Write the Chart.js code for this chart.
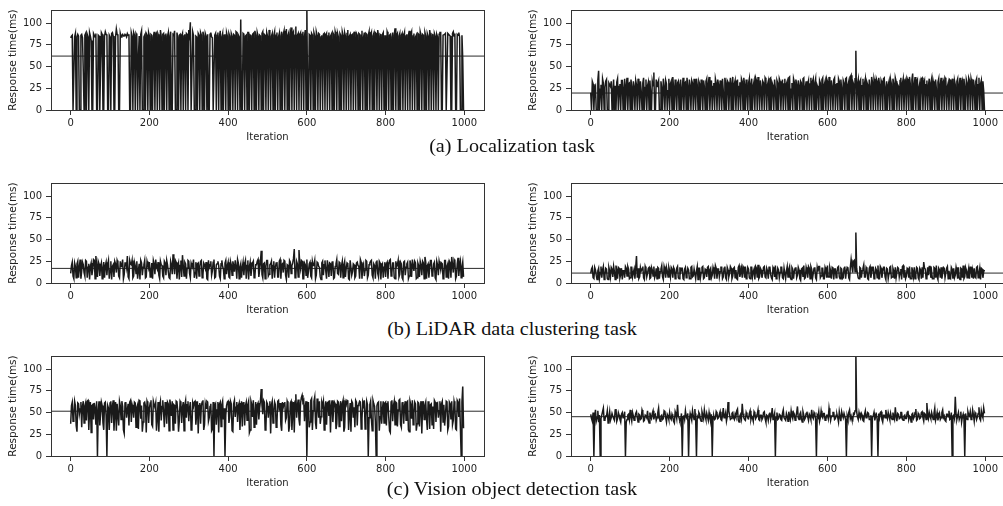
<!DOCTYPE html>
<html>
<head>
<meta charset="utf-8">
<script src="https://cdn.jsdelivr.net/npm/chart.js@4.4.0/dist/chart.umd.min.js"></script>
<style>
  body { margin: 0; background: #fff; width: 1003px; height: 506px; overflow: hidden; position: relative; }
  canvas { position: absolute; }
  .cap { position: absolute; left: 312px; width: 400px; text-align: center; font: 18px "Liberation Serif", serif; line-height: 18px; color: #111; transform: scaleX(1.12); white-space: nowrap; }
</style>
</head>
<body>
<canvas id="c0" width="490" height="143" style="left:0;top:0;width:490px;height:143px"></canvas>
<canvas id="c1" width="485" height="143" style="left:520px;top:0;width:485px;height:143px"></canvas>
<div class="cap" style="top:137px">(a) Localization task</div>
<canvas id="c2" width="490" height="143" style="left:0;top:173px;width:490px;height:143px"></canvas>
<canvas id="c3" width="485" height="143" style="left:520px;top:173px;width:485px;height:143px"></canvas>
<div class="cap" style="top:320px">(b) LiDAR data clustering task</div>
<canvas id="c4" width="490" height="143" style="left:0;top:346px;width:490px;height:143px"></canvas>
<canvas id="c5" width="485" height="143" style="left:520px;top:346px;width:485px;height:143px"></canvas>
<div class="cap" style="top:480px">(c) Vision object detection task</div>
<script>
// tick labels
const xTicks = [0, 200, 400, 600, 800, 1000];
const yTicks = [0, 25, 50, 75, 100];

// samples every 2 iterations: "A" arrays at 0,4,8.. and "B" arrays at 2,6,10..
const itersA = Array.from({length: 250}, (_, i) => i * 4);
const itersB = Array.from({length: 250}, (_, i) => i * 4 + 2);

// response time (ms)
const locLeftA = [
  83, 86, 0, 88, 84, 85, 0, 87, 45, 86,
  0, 84, 89, 80, 0, 86, 88, 0, 85, 52,
  87, 0, 90, 86, 0, 84, 88, 85, 0, 93,
  86, 0, 84, 87, 85, 86, 88, 87, 0, 85,
  89, 0, 86, 60, 0, 91, 0, 86, 88, 0,
  85, 87, 0, 90, 86, 0, 84, 92, 0, 88,
  86, 0, 89, 85, 0, 87, 91, 0, 84, 86,
  0, 88, 85, 0, 87, 92, 101, 0, 86, 0,
  84, 88, 0, 86, 90, 0, 85, 87, 0, 89,
  83, 0, 88, 86, 0, 91, 84, 0, 87, 89,
  0, 85, 88, 0, 86, 90, 0, 84, 104, 0,
  87, 85, 0, 89, 86, 0, 88, 91, 0, 85,
  86, 0, 90, 87, 0, 85, 92, 0, 88, 86,
  0, 89, 84, 0, 90, 87, 0, 93, 86, 0,
  95, 88, 0, 96, 86, 0, 89, 87, 0, 92,
  118, 0, 86, 88, 0, 85, 90, 0, 87, 84,
  0, 88, 86, 0, 89, 85, 0, 87, 90, 0,
  84, 88, 0, 86, 89, 0, 92, 85, 0, 87,
  90, 0, 86, 88, 0, 91, 84, 0, 87, 86,
  0, 89, 85, 0, 88, 92, 0, 86, 87, 0,
  85, 90, 0, 87, 84, 0, 94, 86, 0, 88,
  86, 0, 89, 85, 0, 91, 87, 0, 88, 84,
  0, 87, 90, 0, 86, 89, 0, 85, 92, 0,
  86, 88, 0, 84, 87, 89, 0, 86, 88, 0,
  87, 85, 0, 90, 88, 0, 86, 84, 0, 58
];
const locLeftB = [
  85, 0, 84, 0, 87, 0, 86, 83, 0, 88,
  87, 0, 85, 0, 88, 84, 0, 86, 0, 89,
  0, 85, 87, 0, 86, 0, 89, 0, 84, 87,
  0, 88, 86, 85, 87, 84, 86, 0, 89, 0,
  86, 88, 0, 85, 87, 0, 84, 0, 86, 89,
  0, 86, 84, 0, 88, 87, 0, 85, 87, 0,
  88, 85, 0, 90, 0, 86, 0, 89, 0, 87,
  85, 0, 87, 88, 0, 86, 0, 90, 0, 85,
  0, 86, 89, 0, 85, 88, 0, 0, 87, 84,
  0, 86, 0, 89, 85, 0, 88, 86, 0, 85,
  88, 0, 85, 87, 0, 89, 86, 0, 0, 88,
  0, 86, 89, 0, 85, 87, 0, 86, 89, 0,
  85, 88, 0, 86, 89, 0, 87, 85, 0, 90,
  86, 0, 88, 85, 0, 91, 85, 0, 89, 87,
  0, 90, 86, 0, 88, 87, 0, 90, 85, 0,
  0, 87, 0, 86, 89, 0, 86, 88, 0, 86,
  87, 0, 88, 85, 0, 87, 89, 0, 86, 88,
  0, 86, 90, 0, 85, 88, 0, 87, 86, 0,
  85, 88, 0, 87, 86, 0, 89, 88, 0, 90,
  86, 0, 88, 89, 0, 85, 87, 0, 89, 85,
  0, 87, 86, 0, 89, 86, 0, 88, 85, 0,
  88, 85, 0, 87, 86, 0, 90, 85, 0, 86,
  88, 0, 86, 87, 0, 85, 88, 0, 86, 87,
  0, 85, 87, 0, 89, 0, 86, 87, 0, 88,
  86, 0, 88, 85, 0, 87, 89, 0, 86, 0
];
const locRightA = [
  20, 33, 0, 28, 0, 45, 24, 0, 31, 26,
  35, 0, 29, 33, 22, 0, 0, 36, 27, 0,
  34, 24, 0, 37, 30, 0, 26, 33, 0, 29,
  36, 0, 22, 31, 0, 35, 28, 0, 18, 33,
  43, 0, 27, 34, 0, 25, 36, 0, 30, 22,
  0, 33, 38, 0, 26, 31, 0, 35, 24, 0,
  32, 37, 0, 28, 34, 0, 23, 36, 0, 30,
  35, 0, 27, 33, 0, 38, 25, 0, 31, 36,
  0, 29, 34, 0, 22, 37, 0, 32, 26, 0,
  38, 30, 0, 35, 27, 0, 33, 37, 0, 24,
  31, 0, 36, 28, 0, 34, 38, 0, 26, 33,
  0, 35, 29, 0, 37, 31, 0, 25, 34, 0,
  33, 27, 0, 36, 30, 0, 38, 24, 0, 32,
  35, 0, 28, 33, 0, 37, 26, 0, 34, 30,
  0, 36, 31, 0, 25, 34, 0, 37, 29, 0,
  33, 38, 0, 27, 35, 0, 31, 36, 0, 24,
  34, 0, 37, 29, 0, 40, 33, 0, 68, 30,
  0, 35, 28, 0, 36, 32, 0, 26, 38, 0,
  31, 36, 0, 29, 34, 0, 37, 25, 0, 33,
  35, 0, 30, 37, 0, 27, 34, 0, 36, 31,
  0, 33, 38, 0, 42, 29, 0, 35, 26, 0,
  37, 31, 0, 34, 28, 0, 36, 33, 0, 25,
  32, 0, 37, 30, 0, 35, 27, 0, 34, 36,
  0, 29, 33, 0, 37, 31, 0, 26, 35, 0,
  34, 36, 0, 28, 33, 0, 37, 30, 0, 22
];
const locRightB = [
  0, 30, 26, 0, 34, 0, 29, 36, 0, 33,
  0, 31, 27, 0, 35, 28, 32, 0, 30, 34,
  0, 36, 28, 0, 31, 35, 0, 27, 34, 0,
  30, 33, 0, 37, 26, 0, 32, 34, 0, 28,
  0, 35, 31, 0, 33, 0, 27, 34, 0, 36,
  30, 0, 26, 35, 0, 33, 29, 0, 37, 31,
  0, 27, 35, 0, 31, 36, 0, 29, 33, 0,
  28, 34, 0, 36, 30, 0, 34, 27, 0, 31,
  35, 0, 27, 36, 0, 31, 34, 0, 37, 30,
  0, 34, 28, 0, 32, 36, 0, 29, 35, 0,
  36, 30, 0, 33, 37, 0, 29, 34, 0, 31,
  37, 0, 33, 36, 0, 28, 35, 0, 31, 36,
  0, 35, 30, 0, 33, 37, 0, 31, 36, 0,
  29, 34, 0, 31, 36, 0, 33, 30, 0, 37,
  33, 0, 36, 28, 0, 31, 35, 0, 33, 36,
  0, 30, 34, 0, 37, 29, 0, 33, 35, 0,
  31, 36, 0, 33, 38, 0, 30, 36, 0, 35,
  33, 0, 36, 31, 0, 29, 35, 0, 32, 36,
  0, 33, 37, 0, 31, 36, 0, 33, 29, 0,
  30, 36, 0, 33, 29, 0, 37, 31, 0, 34,
  36, 0, 30, 35, 0, 38, 33, 0, 31, 36,
  0, 34, 29, 0, 36, 31, 0, 28, 35, 0,
  36, 29, 0, 33, 37, 0, 31, 35, 0, 30,
  34, 0, 36, 29, 0, 34, 36, 0, 31, 37,
  0, 31, 35, 0, 36, 29, 0, 34, 33, 0
];
const lidarLeftA = [
  11, 24, 5, 19, 22, 6, 27, 14, 21, 8,
  25, 18, 4, 23, 16, 26, 31, 7, 22, 19,
  5, 24, 20, 9, 26, 15, 4, 21, 25, 12,
  23, 6, 19, 27, 10, 24, 31, 5, 22, 26,
  8, 20, 25, 14, 4, 23, 18, 26, 7, 21,
  24, 11, 5, 22, 27, 16, 9, 25, 20, 6,
  23, 26, 13, 5, 21, 33, 10, 24, 19, 4,
  26, 32, 8, 22, 17, 25, 6, 20, 27, 12,
  5, 23, 19, 26, 9, 21, 24, 4, 18, 25,
  14, 27, 7, 22, 20, 5, 26, 16, 23, 10,
  24, 6, 21, 25, 13, 19, 27, 5, 22, 18,
  9, 26, 20, 4, 24, 17, 25, 8, 21, 27,
  15, 37, 6, 23, 19, 26, 10, 22, 5, 25,
  18, 24, 7, 27, 21, 12, 25, 4, 20, 26,
  11, 23, 39, 8, 22, 38, 16, 25, 5, 21,
  27, 13, 24, 6, 20, 26, 9, 23, 18, 4,
  25, 21, 14, 26, 7, 22, 24, 5, 19, 27,
  10, 23, 20, 6, 25, 17, 22, 4, 26, 13,
  21, 8, 24, 19, 27, 5, 22, 15, 25, 9,
  23, 26, 6, 20, 24, 11, 25, 4, 22, 18,
  7, 24, 21, 27, 12, 23, 5, 19, 26, 10,
  22, 4, 25, 18, 24, 8, 21, 27, 14, 23,
  6, 20, 25, 9, 23, 30, 5, 22, 17, 26,
  11, 24, 4, 21, 25, 15, 22, 7, 26, 19,
  5, 23, 30, 12, 25, 8, 29, 20, 6, 24
];
const lidarLeftB = [
  20, 8, 23, 6, 25, 18, 5, 24, 12, 26,
  6, 22, 19, 9, 27, 5, 20, 25, 8, 23,
  17, 6, 24, 21, 5, 25, 19, 7, 22, 26,
  8, 25, 20, 5, 23, 18, 7, 26, 21, 6,
  24, 11, 5, 22, 26, 9, 21, 6, 25, 17,
  7, 23, 26, 10, 19, 24, 5, 21, 8, 25,
  9, 21, 6, 25, 10, 22, 26, 5, 23, 20,
  7, 20, 24, 5, 26, 11, 23, 19, 6, 24,
  22, 8, 25, 6, 23, 17, 5, 26, 21, 9,
  24, 6, 21, 25, 8, 22, 19, 5, 26, 20,
  7, 25, 9, 20, 26, 5, 23, 18, 6, 24,
  22, 5, 26, 19, 8, 23, 6, 21, 25, 7,
  24, 10, 22, 5, 26, 8, 21, 25, 20, 6,
  23, 7, 25, 5, 22, 26, 9, 21, 6, 24,
  20, 28, 6, 25, 7, 22, 26, 5, 23, 9,
  6, 22, 8, 25, 21, 5, 24, 19, 7, 23,
  9, 26, 5, 20, 23, 8, 25, 6, 22, 11,
  24, 6, 25, 21, 7, 23, 5, 26, 9, 22,
  6, 23, 20, 5, 24, 19, 8, 26, 6, 21,
  25, 9, 22, 5, 26, 7, 23, 20, 6, 24,
  22, 5, 26, 8, 23, 6, 25, 21, 7, 24,
  6, 24, 9, 22, 5, 26, 7, 20, 25, 5,
  23, 7, 21, 25, 5, 24, 20, 6, 26, 8,
  22, 6, 25, 9, 20, 23, 5, 26, 7, 22,
  25, 6, 21, 27, 5, 22, 8, 25, 18, 7
];
const lidarRightA = [
  11, 18, 5, 15, 4, 17, 12, 6, 19, 9,
  16, 4, 14, 18, 7, 13, 20, 5, 17, 10,
  4, 15, 19, 8, 16, 6, 18, 12, 5, 31,
  17, 7, 14, 19, 4, 16, 11, 18, 6, 15,
  19, 9, 5, 17, 13, 20, 4, 15, 18, 7,
  14, 18, 6, 16, 10, 19, 5, 13, 17, 4,
  18, 11, 15, 5, 19, 8, 16, 14, 4, 17,
  12, 19, 6, 15, 18, 4, 17, 9, 14, 20,
  5, 16, 13, 18, 7, 19, 4, 15, 11, 17,
  8, 18, 15, 4, 20, 12, 6, 17, 19, 9,
  16, 5, 18, 13, 4, 17, 21, 7, 15, 11,
  19, 6, 14, 18, 10, 4, 16, 20, 8, 15,
  12, 18, 5, 17, 14, 7, 19, 4, 16, 13,
  18, 9, 15, 3, 17, 20, 6, 14, 19, 5,
  16, 11, 18, 4, 13, 19, 8, 17, 5, 15,
  20, 7, 14, 18, 4, 16, 12, 19, 5, 16,
  6, 19, 13, 17, 4, 27, 12, 26, 58, 11,
  5, 17, 14, 21, 7, 16, 4, 19, 12, 18,
  9, 15, 20, 5, 17, 13, 18, 4, 16, 11,
  19, 7, 14, 18, 6, 17, 12, 4, 20, 15,
  8, 16, 19, 5, 13, 18, 10, 17, 4, 15,
  18, 24, 16, 6, 9, 19, 13, 5, 17, 20,
  4, 15, 18, 11, 17, 6, 19, 14, 5, 16,
  17, 9, 13, 18, 4, 16, 20, 7, 15, 12,
  5, 18, 14, 17, 6, 19, 11, 4, 16, 13
];
const lidarRightB = [
  16, 6, 18, 9, 14, 5, 19, 15, 4, 17,
  5, 18, 7, 16, 19, 4, 15, 18, 6, 17,
  14, 6, 17, 19, 5, 18, 7, 16, 18, 6,
  5, 18, 16, 6, 19, 7, 17, 5, 18, 8,
  6, 17, 18, 5, 16, 7, 19, 6, 14, 18,
  7, 16, 18, 5, 17, 6, 18, 17, 5, 16,
  6, 17, 5, 18, 7, 16, 5, 19, 17, 6,
  18, 5, 16, 7, 19, 15, 6, 18, 5, 17,
  16, 7, 18, 5, 17, 6, 18, 7, 19, 5,
  17, 6, 5, 18, 7, 17, 19, 6, 5, 18,
  6, 18, 7, 16, 19, 6, 5, 17, 6, 18,
  7, 17, 5, 19, 6, 18, 7, 5, 17, 6,
  18, 6, 17, 5, 19, 16, 6, 18, 5, 17,
  6, 18, 5, 16, 7, 5, 18, 6, 17, 19,
  5, 17, 6, 18, 19, 6, 17, 5, 18, 6,
  7, 18, 5, 17, 16, 6, 18, 7, 17, 5,
  17, 5, 18, 6, 18, 19, 25, 13, 17, 6,
  18, 6, 17, 7, 18, 5, 17, 6, 18, 5,
  17, 6, 5, 19, 6, 18, 7, 17, 5, 18,
  6, 17, 5, 6, 18, 7, 16, 19, 6, 5,
  17, 6, 5, 18, 7, 5, 18, 6, 17, 5,
  6, 17, 5, 18, 19, 6, 5, 18, 6, 7,
  17, 6, 5, 18, 6, 17, 5, 6, 18, 5,
  6, 18, 5, 6, 17, 6, 5, 18, 6, 17,
  18, 6, 5, 7, 18, 6, 17, 17, 6, 15
];
const visionLeftA = [
  37, 62, 45, 58, 28, 60, 54, 33, 63, 57,
  41, 64, 52, 27, 59, 61, 36, 0, 63, 48,
  58, 30, 62, 0, 55, 61, 38, 64, 50, 29,
  60, 63, 42, 57, 26, 62, 53, 35, 64, 59,
  44, 61, 56, 31, 63, 58, 39, 62, 27, 60,
  55, 64, 34, 59, 61, 43, 28, 63, 57, 50,
  62, 37, 60, 65, 46, 30, 58, 63, 52, 41,
  61, 56, 29, 64, 59, 40, 62, 33, 57, 63,
  48, 26, 61, 58, 64, 36, 55, 62, 44, 60,
  31, 0, 60, 53, 27, 62, 59, 42, 0, 58,
  63, 45, 60, 28, 64, 56, 39, 61, 52, 34,
  62, 58, 41, 63, 30, 59, 64, 47, 36, 61,
  55, 77, 48, 62, 33, 60, 57, 26, 63, 51,
  59, 38, 64, 61, 29, 56, 62, 44, 60, 35,
  63, 50, 27, 71, 58, 42, 61, 70, 64, 57,
  0, 62, 39, 66, 52, 68, 31, 60, 63, 45,
  58, 30, 63, 61, 46, 27, 64, 55, 60, 37,
  62, 57, 40, 64, 33, 59, 63, 48, 28, 61,
  56, 64, 35, 60, 62, 43, 58, 31, 63, 0,
  59, 42, 64, 57, 0, 61, 29, 63, 54, 38,
  62, 60, 45, 27, 64, 58, 36, 61, 53, 65,
  33, 62, 57, 41, 63, 28, 59, 64, 49, 60,
  37, 61, 56, 26, 63, 58, 43, 62, 31, 60,
  57, 64, 39, 61, 52, 28, 63, 59, 46, 62,
  34, 60, 63, 41, 58, 30, 62, 66, 0, 80
];
const visionLeftB = [
  58, 40, 63, 35, 61, 48, 62, 57, 38, 61,
  63, 30, 62, 58, 42, 55, 63, 52, 35, 62,
  38, 61, 46, 58, 30, 63, 57, 29, 62, 60,
  35, 58, 63, 30, 61, 44, 60, 62, 39, 55,
  62, 33, 59, 64, 43, 28, 61, 57, 63, 38,
  61, 36, 63, 56, 29, 62, 58, 41, 64, 33,
  55, 62, 29, 57, 63, 59, 37, 62, 28, 63,
  38, 62, 59, 44, 63, 55, 30, 61, 62, 36,
  63, 58, 37, 62, 30, 60, 63, 40, 57, 29,
  62, 58, 36, 62, 60, 34, 63, 55, 47, 62,
  38, 63, 29, 60, 45, 62, 58, 30, 63, 61,
  35, 62, 59, 27, 63, 45, 33, 62, 59, 42,
  63, 58, 64, 30, 62, 44, 63, 59, 38, 62,
  33, 63, 52, 36, 62, 60, 41, 63, 28, 61,
  30, 62, 63, 44, 65, 35, 67, 62, 40, 63,
  56, 33, 64, 30, 63, 38, 66, 44, 37, 62,
  63, 55, 36, 62, 64, 58, 39, 62, 31, 63,
  34, 63, 60, 28, 62, 64, 30, 61, 63, 44,
  33, 62, 58, 63, 31, 62, 64, 45, 59, 44,
  63, 29, 60, 40, 58, 62, 45, 37, 63, 61,
  35, 63, 29, 62, 40, 63, 62, 34, 64, 36,
  61, 37, 63, 62, 30, 63, 43, 36, 62, 29,
  62, 34, 63, 57, 42, 62, 30, 63, 59, 36,
  31, 62, 60, 44, 63, 60, 39, 35, 63, 30,
  62, 42, 36, 63, 31, 64, 45, 33, 62, 32
];
const visionRightA = [
  48, 40, 0, 53, 44, 39, 0, 47, 55, 42,
  46, 38, 51, 44, 49, 41, 54, 43, 47, 39,
  50, 45, 0, 42, 48, 53, 40, 46, 44, 51,
  39, 47, 43, 50, 41, 46, 52, 38, 45, 49,
  42, 48, 44, 55, 40, 47, 43, 51, 39, 46,
  50, 42, 45, 38, 48, 59, 44, 41, 0, 47,
  52, 43, 0, 49, 41, 46, 54, 0, 44, 48,
  40, 47, 53, 42, 45, 50, 39, 0, 46, 43,
  49, 44, 51, 41, 55, 46, 40, 62, 47, 43,
  50, 42, 45, 54, 39, 48, 60, 44, 41, 47,
  43, 52, 46, 40, 49, 45, 53, 41, 47, 44,
  51, 39, 46, 48, 42, 55, 45, 0, 50, 43,
  47, 41, 53, 44, 49, 40, 46, 52, 43, 48,
  45, 57, 42, 50, 39, 47, 44, 51, 41, 46,
  53, 43, 48, 0, 45, 40, 52, 44, 49, 42,
  47, 55, 41, 46, 50, 43, 48, 39, 45, 51,
  44, 49, 0, 42, 53, 46, 41, 48, 120, 45,
  50, 43, 47, 40, 52, 45, 49, 42, 0, 46,
  41, 48, 0, 44, 51, 39, 47, 53, 43, 46,
  49, 42, 45, 56, 40, 48, 44, 50, 41, 47,
  43, 52, 46, 39, 49, 45, 54, 42, 47, 44,
  51, 40, 48, 61, 43, 46, 50, 42, 55, 45,
  41, 49, 44, 53, 46, 40, 48, 52, 43, 0,
  47, 68, 42, 50, 45, 39, 48, 0, 44, 51,
  46, 42, 53, 40, 48, 45, 56, 41, 47, 55
];
const visionRightB = [
  43, 50, 45, 40, 52, 47, 43, 51, 41, 46,
  52, 44, 41, 49, 43, 53, 40, 50, 42, 48,
  44, 51, 39, 47, 42, 45, 50, 41, 49, 44,
  48, 42, 53, 40, 47, 44, 41, 50, 43, 52,
  47, 41, 50, 43, 46, 42, 52, 44, 48, 42,
  44, 48, 40, 51, 43, 46, 40, 49, 45, 42,
  45, 49, 41, 45, 52, 42, 41, 46, 50, 42,
  51, 43, 46, 49, 41, 44, 48, 45, 42, 51,
  43, 48, 42, 47, 44, 50, 45, 52, 42, 49,
  44, 48, 52, 41, 46, 43, 49, 42, 50, 44,
  49, 42, 44, 51, 43, 48, 42, 47, 42, 50,
  43, 47, 41, 50, 47, 42, 49, 44, 42, 48,
  42, 49, 44, 41, 46, 51, 42, 46, 50, 41,
  50, 44, 48, 43, 51, 42, 49, 45, 48, 42,
  45, 50, 42, 47, 51, 44, 46, 49, 41, 47,
  43, 48, 46, 50, 42, 47, 44, 51, 40, 47,
  49, 42, 46, 50, 43, 42, 49, 52, 51, 42,
  45, 49, 41, 48, 44, 50, 42, 47, 45, 50,
  46, 42, 49, 50, 42, 47, 44, 46, 50, 42,
  44, 50, 42, 46, 49, 43, 50, 42, 46, 43,
  50, 42, 45, 48, 43, 50, 41, 49, 43, 50,
  44, 49, 42, 47, 50, 43, 46, 49, 41, 50,
  46, 42, 50, 44, 41, 48, 45, 42, 50, 46,
  43, 48, 46, 42, 51, 45, 42, 49, 42, 47,
  51, 44, 47, 50, 42, 49, 43, 52, 44, 49
];

// average line of each panel
const means = [62, 19.5, 16.8, 11.4, 51.5, 45.2];

const seriesA = [locLeftA, locRightA, lidarLeftA, lidarRightA, visionLeftA, visionRightA];
const seriesB = [locLeftB, locRightB, lidarLeftB, lidarRightB, visionLeftB, visionRightB];

// box round the plot area, like matplotlib spines
const frame = {
  id: 'frame',
  afterDraw(chart) {
    const { ctx, chartArea: a } = chart;
    ctx.save();
    ctx.strokeStyle = '#333';
    ctx.lineWidth = 1;
    ctx.strokeRect(Math.round(a.left) + 0.5, Math.round(a.top) + 0.5,
      Math.round(a.right - a.left), Math.round(a.bottom - a.top));
    ctx.restore();
  }
};

const font = { family: 'DejaVu Sans', size: 10 };

function panel(i) {
  const ctx = document.getElementById('c' + i);
  const a = seriesA[i], b = seriesB[i];
  const pts = [];
  for (let k = 0; k < itersA.length; k++) {
    pts.push({ x: itersA[k], y: a[k] });
    pts.push({ x: itersB[k], y: b[k] });
  }
  const right = i % 2 === 1;
  new Chart(ctx, {
    type: 'line',
    data: {
      datasets: [{
        data: pts,
        borderColor: '#1a1a1a',
        borderWidth: 1.5,
        pointRadius: 0,
        tension: 0
      }, {
        data: [{ x: -50, y: means[i] }, { x: 1050, y: means[i] }],
        borderColor: '#2a2a2a',
        borderWidth: 1,
        pointRadius: 0
      }]
    },
    options: {
      responsive: false,
      animation: false,
      events: [],
      layout: { padding: { top: 2, right: right ? 0 : 6, left: 0, bottom: 0 } },
      plugins: { legend: { display: false }, tooltip: { enabled: false } },
      scales: {
        x: {
          type: 'linear', min: -50, max: 1050,
          afterBuildTicks: s => { s.ticks = xTicks.map(v => ({ value: v })); },
          afterFit: s => { s.height = 33; },
          grid: { display: true, drawOnChartArea: false, drawTicks: true, tickLength: 5, color: '#333' },
          border: { display: false },
          ticks: { color: '#222', font: font, padding: 2, maxRotation: 0, callback: v => String(v) },
          title: { display: true, text: 'Iteration', color: '#222', font: font, padding: { top: 0, bottom: 0 } }
        },
        y: {
          min: 0, max: 115,
          afterBuildTicks: s => { s.ticks = yTicks.map(v => ({ value: v })); },
          afterFit: s => { s.width = 51; },
          grid: { display: true, drawOnChartArea: false, drawTicks: true, tickLength: 5, color: '#333' },
          border: { display: false },
          ticks: { color: '#222', font: font, padding: 4, callback: v => String(v) },
          title: { display: true, text: 'Response time(ms)', color: '#222', font: { family: 'DejaVu Sans', size: 10.5 }, padding: { top: 7, bottom: 0 } }
        }
      }
    },
    plugins: [frame]
  });
}

for (let i = 0; i < 6; i++) panel(i);
</script>
</body>
</html>
